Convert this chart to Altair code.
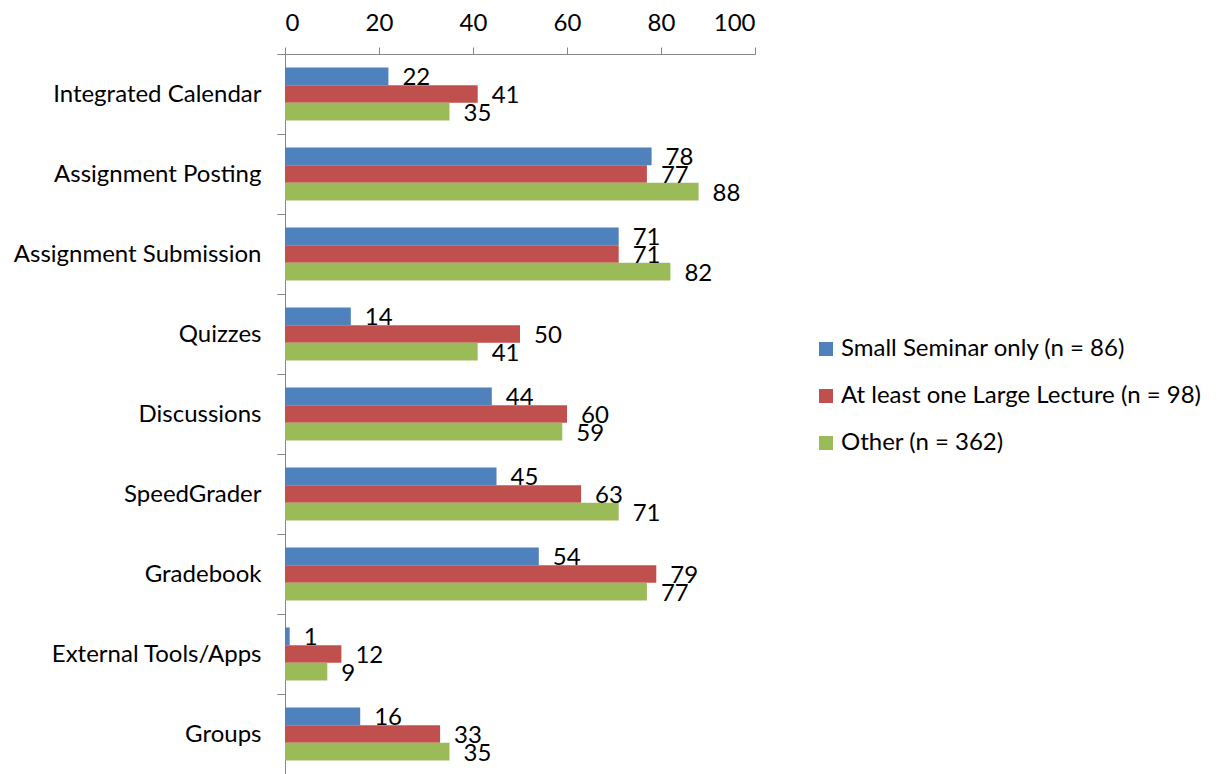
import altair as alt
import pandas as pd

categories = ["Integrated Calendar", "Assignment Posting", "Assignment Submission",
              "Quizzes", "Discussions", "SpeedGrader", "Gradebook",
              "External Tools/Apps", "Groups"]
series = ["Small Seminar only (n = 86)", "At least one Large Lecture (n = 98)", "Other (n = 362)"]
small_seminar = [22, 78, 71, 14, 44, 45, 54, 1, 16]
large_lecture = [41, 77, 71, 50, 60, 63, 79, 12, 33]
other = [35, 88, 82, 41, 59, 71, 77, 9, 35]
colors = ["#4F81BD", "#C0504D", "#9BBB59"]
x_ticks = [0, 20, 40, 60, 80, 100]

rows = []
for i, c in enumerate(categories):
    for s, vals in zip(series, [small_seminar, large_lecture, other]):
        rows.append({"category": c, "series": s, "value": vals[i]})
df = pd.DataFrame(rows)

FONT = "Lato"
FS = 24
AXIS_GRAY = "#868686"

y = alt.Y("category:N", sort=categories,
          scale=alt.Scale(paddingInner=0, paddingOuter=0),
          axis=alt.Axis(title=None, tickBand="extent", labelFontSize=FS, labelFont=FONT,
                        labelColor="black", domainColor=AXIS_GRAY, tickColor=AXIS_GRAY,
                        tickSize=8, labelPadding=16, labelLimit=400))
yoff = alt.YOffset("series:N", sort=series,
                   scale=alt.Scale(domain=series, paddingInner=0, paddingOuter=0.76))
x = alt.X("value:Q", scale=alt.Scale(domain=[0, 100], nice=False),
          axis=alt.Axis(orient="top", values=x_ticks, title=None, grid=False,
                        labelFontSize=FS, labelFont=FONT, labelColor="black",
                        domainColor=AXIS_GRAY, tickColor=AXIS_GRAY, tickSize=7,
                        labelPadding=12))
color = alt.Color("series:N", sort=series,
                  scale=alt.Scale(domain=series, range=colors),
                  legend=alt.Legend(title=None, orient="none", legendX=529, legendY=283,
                                    symbolType="square", symbolSize=196,
                                    symbolStrokeWidth=0, labelFontSize=FS, labelFont=FONT,
                                    labelColor="black", rowPadding=23, labelLimit=500,
                                    labelOffset=3))

bars = alt.Chart(df).mark_bar().encode(y=y, yOffset=yoff, x=x, color=color)
labels = alt.Chart(df).mark_text(align="left", baseline="middle", dx=14, dy=2,
                                 fontSize=FS, font=FONT, color="black").encode(
    y=y, yOffset=yoff, x=x, text="value:Q")

chart = alt.layer(bars, labels).properties(
    width=470, height=720,
    autosize=alt.AutoSizeParams(type="none"),
    padding={"left": 277, "top": 46, "right": 448, "bottom": 0},
).configure_view(stroke=None)

chart.save("out.html", embed_options={"renderer": "svg", "actions": False})
